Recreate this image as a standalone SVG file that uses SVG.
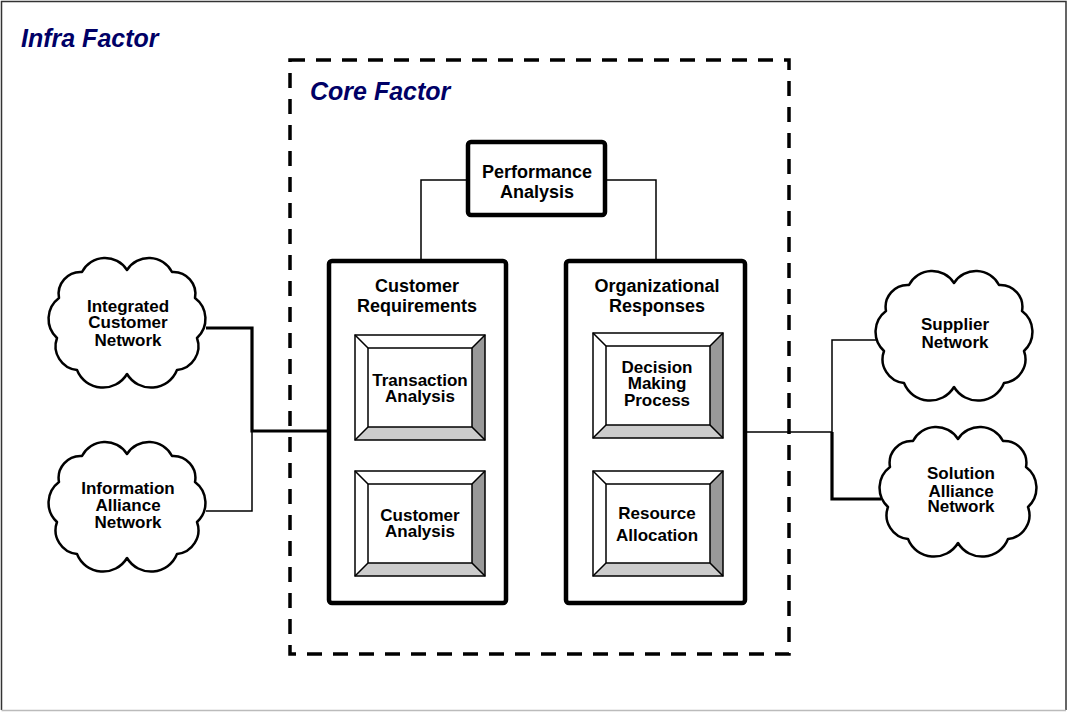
<svg xmlns="http://www.w3.org/2000/svg" xmlns:xlink="http://www.w3.org/1999/xlink" width="1068" height="712" viewBox="0 0 1068 712">
  <style>
    .frame { fill: none; stroke: #333; stroke-width: 1.5; }
    .frame-base { fill: none; stroke: #bbb; stroke-width: 1.5; }
    .title { font-family: "Liberation Sans", Arial, sans-serif; font-weight: bold; font-style: italic; font-size: 25px; fill: #000066; }
    .label { font-family: "Liberation Sans", Arial, sans-serif; font-weight: bold; font-size: 17px; fill: #000; text-anchor: middle; }
    .head { font-size: 18px; }
    .core { fill: none; stroke: #000; stroke-width: 3.5; stroke-dasharray: 15 11; }
    .box { fill: #fff; stroke: #000; stroke-width: 4.5; }
    .cloud { fill: #fff; stroke: #000; stroke-width: 2.5; stroke-linejoin: round; }
    .bevel-edge { fill: none; stroke: #000; stroke-width: 1.5; }
    .thin { fill: none; stroke: #000; stroke-width: 1.5; }
    .thick { fill: none; stroke: #000; stroke-width: 3.2; }
  </style>
  <defs>
    <!-- cloud outline centred on its origin, about 157 x 130 -->
    <path id="cloud-shape" class="cloud" d="M 0,-50 A 26,26 0 0 1 45,-48 A 22,22 0 0 1 68,-22 A 26,26 0 0 1 70,18 A 24,24 0 0 1 50,50 A 28,28 0 0 1 0,54 A 28,28 0 0 1 -50,50 A 24,24 0 0 1 -70,18 A 26,26 0 0 1 -68,-22 A 22,22 0 0 1 -45,-48 A 26,26 0 0 1 0,-50 Z"/>
    <!-- bevelled button: 130 x 105 outer, 13 px bevel -->
    <g id="bevel">
      <rect x="0" y="0" width="130" height="105" fill="#fff"/>
      <polygon points="130,0 117,13 117,92 130,105" fill="#999"/>
      <polygon points="0,105 13,92 117,92 130,105" fill="#ccc"/>
      <rect x="0" y="0" width="130" height="105" class="bevel-edge"/>
      <rect x="13" y="13" width="104" height="79" class="bevel-edge"/>
      <path d="M0,0 L13,13 M130,0 L117,13 M0,105 L13,92 M130,105 L117,92" class="bevel-edge"/>
    </g>
  </defs>

  <rect width="1068" height="712" fill="#fff"/>
  <path class="frame" d="M1.5,710 L1.5,1.5 L1066,1.5 L1066,710"/>
  <path class="frame-base" d="M1.5,710.5 L1066,710.5"/>
  <text class="title" x="21" y="47">Infra Factor</text>

  <g id="core-factor">
    <rect class="core" x="290" y="60" width="499" height="594"/>
    <text class="title" x="310" y="100">Core Factor</text>
  </g>

  <g id="connectors">
    <path class="thin" d="M467,180 L421,180 L421,259"/>
    <path class="thin" d="M607,180 L656,180 L656,259"/>
    <path class="thick" d="M206,328 L252,328 L252,431 L327,431"/>
    <path class="thin" d="M206,511 L252,511 L252,431"/>
    <path class="thin" d="M747,432 L832,432 L832,340 L876,340"/>
    <path class="thick" d="M832,432 L832,499 L881,499"/>
  </g>

  <g id="performance-analysis">
    <rect class="box" x="468" y="142" width="137" height="73" rx="3"/>
    <text class="label head" x="537" y="178">Performance</text>
    <text class="label head" x="537" y="198">Analysis</text>
  </g>

  <g id="customer-requirements">
    <rect class="box" x="329" y="261" width="177" height="342" rx="3"/>
    <text class="label head" x="417" y="292">Customer</text>
    <text class="label head" x="417" y="312">Requirements</text>
  </g>

  <g id="organizational-responses">
    <rect class="box" x="566" y="261" width="179" height="342" rx="3"/>
    <text class="label head" x="657" y="292">Organizational</text>
    <text class="label head" x="657" y="312">Responses</text>
  </g>

  <g id="transaction-analysis">
    <use xlink:href="#bevel" transform="translate(355,335)"/>
    <text class="label" x="420" y="386">Transaction</text>
    <text class="label" x="420" y="402">Analysis</text>
  </g>

  <g id="customer-analysis">
    <use xlink:href="#bevel" transform="translate(355,471)"/>
    <text class="label" x="420" y="521">Customer</text>
    <text class="label" x="420" y="537">Analysis</text>
  </g>

  <g id="decision-making-process">
    <use xlink:href="#bevel" transform="translate(593,333)"/>
    <text class="label" x="657" y="373">Decision</text>
    <text class="label" x="657" y="389">Making</text>
    <text class="label" x="657" y="406">Process</text>
  </g>

  <g id="resource-allocation">
    <use xlink:href="#bevel" transform="translate(593,471)"/>
    <text class="label" x="657" y="519">Resource</text>
    <text class="label" x="657" y="541">Allocation</text>
  </g>

  <g id="integrated-customer-network">
    <use xlink:href="#cloud-shape" transform="translate(127,320)"/>
    <text class="label" x="128" y="312">Integrated</text>
    <text class="label" x="128" y="328">Customer</text>
    <text class="label" x="128" y="346">Network</text>
  </g>

  <g id="information-alliance-network">
    <use xlink:href="#cloud-shape" transform="translate(127,504)"/>
    <text class="label" x="128" y="494">Information</text>
    <text class="label" x="128" y="511">Alliance</text>
    <text class="label" x="128" y="528">Network</text>
  </g>

  <g id="supplier-network">
    <use xlink:href="#cloud-shape" transform="translate(954,333)"/>
    <text class="label" x="955" y="330">Supplier</text>
    <text class="label" x="955" y="348">Network</text>
  </g>

  <g id="solution-alliance-network">
    <use xlink:href="#cloud-shape" transform="translate(958,489)"/>
    <text class="label" x="961" y="479">Solution</text>
    <text class="label" x="961" y="497">Alliance</text>
    <text class="label" x="961" y="512">Network</text>
  </g>
</svg>
